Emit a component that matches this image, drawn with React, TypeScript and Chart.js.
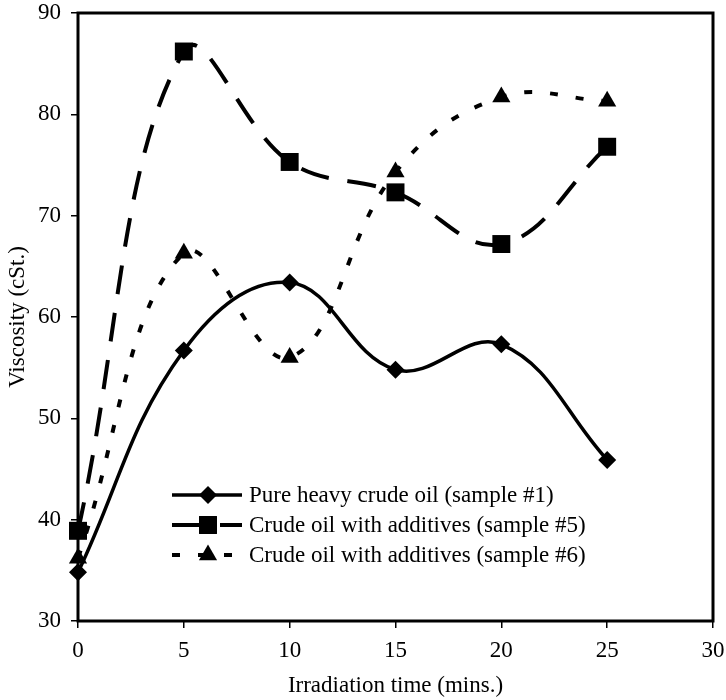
import React, { useEffect, useRef } from 'react';
import { Chart, registerables } from 'chart.js';

Chart.register(...registerables);

const xValues = [0, 5, 10, 15, 20, 25];
const sample1 = [34.8, 56.7, 63.4, 54.8, 57.3, 45.9];
const sample5 = [38.9, 86.2, 75.3, 72.3, 67.2, 76.8];
const sample6 = [36.2, 66.3, 56.0, 74.3, 81.7, 81.3];
const seriesLabels = [
  'Pure heavy crude oil (sample #1)',
  'Crude oil with additives (sample #5)',
  'Crude oil with additives (sample #6)',
];
const xAxisTitle = 'Irradiation time (mins.)';
const yAxisTitle = 'Viscosity (cSt.)';

const FONT_FAMILY = "'Liberation Serif', 'Times New Roman', serif";
const FONT_SIZE = 23;

const styles = [
  { pointStyle: 'rectRot', radius: 9, dash: [] as number[], width: 3.5 },
  { pointStyle: 'rect', radius: 12.7, dash: [29, 19], width: 4 },
  { pointStyle: 'triangle', radius: 10.5, dash: [8, 18], width: 4 },
];

function drawMarker(ctx: CanvasRenderingContext2D, style: string, r: number, x: number, y: number) {
  ctx.beginPath();
  if (style === 'rectRot') {
    ctx.moveTo(x, y - r);
    ctx.lineTo(x + r, y);
    ctx.lineTo(x, y + r);
    ctx.lineTo(x - r, y);
  } else if (style === 'rect') {
    const s = Math.SQRT1_2 * r;
    ctx.rect(x - s, y - s, 2 * s, 2 * s);
  } else {
    for (let i = 0; i < 3; i++) {
      const a = (i * 2 * Math.PI) / 3;
      const px = x + Math.sin(a) * r;
      const py = y - Math.cos(a) * r;
      if (i === 0) ctx.moveTo(px, py);
      else ctx.lineTo(px, py);
    }
  }
  ctx.closePath();
  ctx.fill();
}

const framePlugin = {
  id: 'frame',
  beforeDatasetsDraw(chart: any) {
    const { ctx, chartArea } = chart;
    ctx.save();
    ctx.strokeStyle = '#000';
    ctx.lineWidth = 3;
    ctx.strokeRect(chartArea.left, chartArea.top, chartArea.right - chartArea.left, chartArea.bottom - chartArea.top);
    ctx.restore();
  },
};

const legendPlugin = {
  id: 'insideLegend',
  afterDatasetsDraw(chart: any) {
    const { ctx, chartArea } = chart;
    const x0 = chartArea.left + 94;
    const x1 = chartArea.left + 164;
    const mx = chartArea.left + 130;
    const tx = chartArea.left + 171;
    const rowsY = [chartArea.top + 482, chartArea.top + 512, chartArea.top + 542];
    ctx.save();
    seriesLabels.forEach((label, i) => {
      const st = styles[i];
      const y = rowsY[i];
      ctx.strokeStyle = '#000';
      ctx.fillStyle = '#000';
      ctx.lineWidth = st.width;
      ctx.lineCap = 'butt';
      ctx.setLineDash(st.dash);
      ctx.beginPath();
      ctx.moveTo(x0, y);
      ctx.lineTo(x1, y);
      ctx.stroke();
      ctx.setLineDash([]);
      drawMarker(ctx, st.pointStyle, st.radius, mx, y);
      ctx.font = `${FONT_SIZE}px ${FONT_FAMILY}`;
      ctx.textBaseline = 'middle';
      ctx.textAlign = 'left';
      ctx.fillText(label, tx, y + 1);
    });
    ctx.restore();
  },
};

export default function App() {
  const canvasRef = useRef<HTMLCanvasElement | null>(null);

  useEffect(() => {
    document.body.style.margin = '0';
    const canvas = canvasRef.current;
    if (!canvas) return;
    const seriesData = [sample1, sample5, sample6];
    const chart = new Chart(canvas, {
      type: 'line',
      data: {
        datasets: seriesData.map((vals, i) => ({
          label: seriesLabels[i],
          data: xValues.map((x, j) => ({ x, y: vals[j] })),
          borderColor: '#000',
          backgroundColor: '#000',
          borderWidth: styles[i].width,
          borderDash: styles[i].dash,
          borderCapStyle: 'butt',
          tension: 0.4,
          pointStyle: styles[i].pointStyle as any,
          pointRadius: styles[i].radius,
          pointBackgroundColor: '#000',
          pointBorderColor: '#000',
          pointBorderWidth: 0,
          clip: false as any,
          fill: false,
        })),
      },
      plugins: [framePlugin, legendPlugin],
      options: {
        responsive: false,
        animation: false,
        devicePixelRatio: 1,
        layout: { padding: { top: 13, right: 13, left: 0, bottom: 0 } },
        plugins: {
          legend: { display: false },
          tooltip: { enabled: false },
        },
        scales: {
          x: {
            type: 'linear',
            min: 0,
            max: 30,
            border: { display: false },
            grid: {
              display: true,
              drawOnChartArea: false,
              drawTicks: true,
              tickLength: 7,
              lineWidth: 1.5,
              color: '#000',
            },
            ticks: {
              stepSize: 5,
              color: '#000',
              padding: 9,
              maxRotation: 0,
              font: { family: FONT_FAMILY, size: FONT_SIZE },
            },
            title: {
              display: true,
              text: xAxisTitle,
              color: '#000',
              padding: { top: 0, bottom: 0 },
              font: { family: FONT_FAMILY, size: FONT_SIZE },
            },
            afterFit: (scale: any) => {
              scale.height = 79;
              scale.paddingLeft = 0;
              scale.paddingRight = 0;
            },
          },
          y: {
            type: 'linear',
            min: 30,
            max: 90,
            border: { display: false },
            grid: {
              display: true,
              drawOnChartArea: false,
              drawTicks: true,
              tickLength: 7,
              lineWidth: 1.5,
              color: '#000',
            },
            ticks: {
              stepSize: 10,
              color: '#000',
              padding: 10,
              font: { family: FONT_FAMILY, size: FONT_SIZE },
            },
            title: {
              display: true,
              text: yAxisTitle,
              color: '#000',
              padding: { top: 4, bottom: 0 },
              font: { family: FONT_FAMILY, size: FONT_SIZE },
            },
            afterFit: (scale: any) => {
              scale.width = 78;
              scale.paddingTop = 0;
              scale.paddingBottom = 0;
            },
          },
        },
      } as any,
    });
    return () => chart.destroy();
  }, []);

  return (
    <div style={{ width: 726, height: 700, background: '#fff' }}>
      <canvas ref={canvasRef} width={726} height={700} style={{ display: 'block' }} />
    </div>
  );
}
